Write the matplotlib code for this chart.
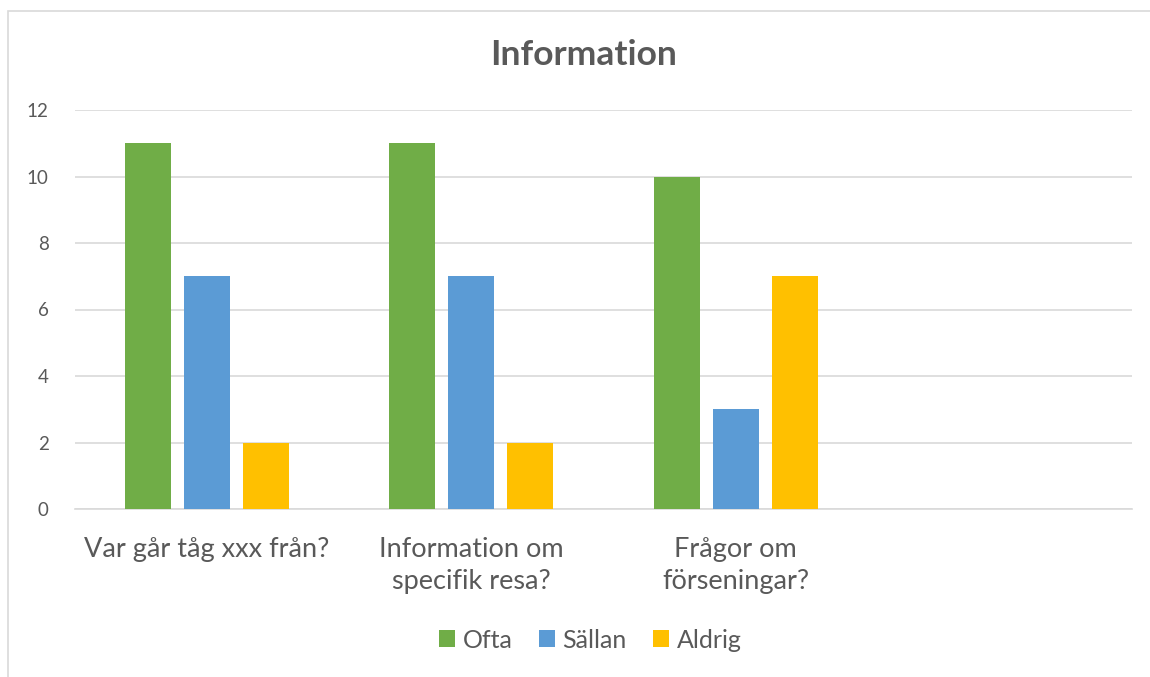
import matplotlib
matplotlib.use("Agg")
import matplotlib.pyplot as plt
import numpy as np
from matplotlib.patches import Rectangle

categories = ["Var går tåg xxx från?", "Information om\nspecifik resa?", "Frågor om\nförseningar?", ""]
series_names = ["Ofta", "Sällan", "Aldrig"]
ofta = [11, 11, 10, None]
sallan = [7, 7, 3, None]
aldrig = [2, 2, 7, None]
yticks = [0, 2, 4, 6, 8, 10, 12]
colors = ["#70AD47", "#5B9BD5", "#FFC000"]
title = "Information"

plt.rcParams['font.family'] = ['Lato', 'DejaVu Sans']
txt = "#595959"

W, H = 1150, 677
fig = plt.figure(figsize=(W/100, H/100), dpi=100)
ax = fig.add_axes([75/W, 1-509/H, (1132-75)/W, (509-110)/H])

x = np.arange(len(categories))
width = 0.174
offsets = [-0.223, 0, 0.223]
handles = []
for vals, off, c, name in zip([ofta, sallan, aldrig], offsets, colors, series_names):
    v = [np.nan if a is None else a for a in vals]
    b = ax.bar(x + off, v, width, color=c, label=name, zorder=3)
    handles.append(b)

ax.set_xlim(-0.5, len(categories) - 0.5)
ax.set_ylim(0, 12)
ax.set_yticks(yticks)
ax.set_yticklabels([str(t) for t in yticks], fontsize=13.5, color=txt)
ax.set_xticks(x)
ax.set_xticklabels(categories, fontsize=19.5, color=txt, linespacing=1.38)
ax.tick_params(axis='both', length=0)
ax.tick_params(axis='y', pad=19)
ax.tick_params(axis='x', pad=20)
ax.grid(axis='y', color="#D9D9D9", linewidth=1.2, zorder=0)
for s in ["top", "right", "left"]:
    ax.spines[s].set_visible(False)
ax.spines["bottom"].set_color("#D9D9D9")
ax.spines["bottom"].set_linewidth(1.2)

fig.text(584/W, 1-55/H, title, ha="center", va="center", fontsize=25.5, fontweight="bold", color=txt)

leg = fig.legend(handles=handles, labels=series_names, loc="center", bbox_to_anchor=(590/W, 1-640/H),
                 ncol=3, frameon=False, fontsize=18, handlelength=0.65, handleheight=0.65,
                 handletextpad=0.3, columnspacing=1.05, labelcolor=txt)

fig.patches.append(Rectangle((8/W, -0.1), 1.2, 1-11/H+0.1, transform=fig.transFigure,
                             fill=False, edgecolor="#D9D9D9", linewidth=1.2))

fig.savefig("out.png", dpi=100)
